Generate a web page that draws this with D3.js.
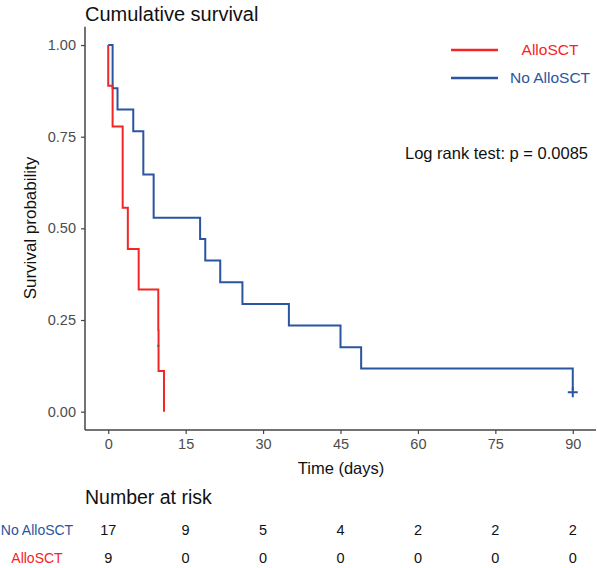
<!DOCTYPE html>
<html>
<head>
<meta charset="utf-8">
<script src="https://cdn.jsdelivr.net/npm/d3@7"></script>
<style>
  body { margin: 0; background: #fff; }
  svg { display: block; font-family: "Liberation Sans", Arial, sans-serif; }
</style>
</head>
<body>
<svg id="chart" width="597" height="568"></svg>
<script>
// ---- data ----
const groups = ["AlloSCT", "No AlloSCT"];
const groupColors = ["#f42525", "#2b55a0"];
// Kaplan-Meier steps: time of event and survival after it
const alloTimes = [0, 0, 0.85, 2.8, 3.8, 5.9, 9.7, 9.75, 10.8];
const alloSurv  = [1, 0.889, 0.778, 0.556, 0.444, 0.333, 0.222, 0.111, 0];
const alloCensorTimes = [9.7];
const alloCensorSurv  = [0.18];
const noAlloTimes = [0, 0.85, 1.8, 4.85, 6.8, 8.8, 17.8, 18.8, 21.7, 26, 35, 45, 49, 90];
const noAlloSurv  = [1, 0.882, 0.824, 0.765, 0.647, 0.529, 0.471, 0.412, 0.353, 0.294, 0.235, 0.176, 0.118, 0.059];
const noAlloCensorTimes = [90];
const noAlloCensorSurv  = [0.053];
const xTicks = [0, 15, 30, 45, 60, 75, 90];
const yTicks = [0, 0.25, 0.5, 0.75, 1];
const riskNoAllo = [17, 9, 5, 4, 2, 2, 2];
const riskAllo   = [9, 0, 0, 0, 0, 0, 0];
const pText = "Log rank test: p = 0.0085";

// ---- layout ----
const svg = d3.select("#chart");
const x = d3.scaleLinear().domain([-4.5, 94.5]).range([85, 596]);
const y = d3.scaleLinear().domain([-0.05, 1.05]).range([430, 26.7]);
const axisColor = "#444";
const tickTextColor = "#4d4d4d";

// title
svg.append("text").attr("x", 85).attr("y", 21)
  .attr("font-size", 20).attr("fill", "#111").text("Cumulative survival");

// axes
const yAxis = svg.append("g").attr("transform", "translate(85,0)")
  .call(d3.axisLeft(y).tickValues(yTicks).tickFormat(d3.format(".2f")).tickSize(4).tickPadding(5));
const xAxis = svg.append("g").attr("transform", "translate(0,430)")
  .call(d3.axisBottom(x).tickValues(xTicks).tickSize(4).tickPadding(5));
[xAxis, yAxis].forEach(a => {
  a.select(".domain").attr("stroke", axisColor).attr("stroke-width", 1.5);
  a.selectAll(".tick line").attr("stroke", axisColor).attr("stroke-width", 1.2);
  a.selectAll(".tick text").attr("font-size", 14.5).attr("fill", tickTextColor)
    .attr("font-family", "Liberation Sans, Arial, sans-serif");
});
xAxis.select(".domain").attr("d", "M85,0H596");
yAxis.select(".domain").attr("d", "M0,26.7V430");

// axis titles
svg.append("text").attr("x", 341).attr("y", 474).attr("text-anchor", "middle")
  .attr("font-size", 16.5).attr("fill", "#111").text("Time (days)");
svg.append("text").attr("transform", "translate(36,228) rotate(-90)").attr("text-anchor", "middle")
  .attr("font-size", 17).attr("fill", "#111").text("Survival probability");

// curves
const line = d3.line().x(d => x(d[0])).y(d => y(d[1])).curve(d3.curveStepAfter);
function pts(times, surv) { return times.map((t, i) => [t, surv[i]]); }
const curves = [
  { pts: pts(noAlloTimes, noAlloSurv), color: groupColors[1], ct: noAlloCensorTimes, cs: noAlloCensorSurv, big: true },
  { pts: pts(alloTimes, alloSurv), color: groupColors[0], ct: alloCensorTimes, cs: alloCensorSurv, big: false }
];
curves.forEach(c => {
  svg.append("path").datum(c.pts).attr("d", line).attr("fill", "none")
    .attr("stroke", c.color).attr("stroke-width", 2);
  c.ct.forEach((t, i) => {
    const cx = x(t), cy = y(c.cs[i]);
    const s = c.big ? 5 : 1;
    const col = c.big ? c.color : "#555";
    svg.append("path").attr("d", `M${cx - s},${cy}H${cx + s}M${cx},${cy - s}V${cy + s}`)
      .attr("stroke", col).attr("stroke-width", c.big ? 2 : 1.5);
  });
});

// legend
const legendY = [50, 78];
const legendOrder = [0, 1];
legendOrder.forEach((gi, k) => {
  svg.append("line").attr("x1", 451).attr("x2", 498).attr("y1", legendY[k]).attr("y2", legendY[k])
    .attr("stroke", groupColors[gi]).attr("stroke-width", 2.5);
  svg.append("text").attr("x", 550).attr("y", legendY[k] + 5).attr("text-anchor", "middle")
    .attr("font-size", 15.5).attr("fill", groupColors[gi]).text(groups[gi]);
});

// p-value
svg.append("text").attr("x", 588).attr("y", 159).attr("text-anchor", "end")
  .attr("font-size", 16.5).attr("fill", "#111").text(pText);

// risk table
svg.append("text").attr("x", 85).attr("y", 504)
  .attr("font-size", 19.5).attr("fill", "#111").text("Number at risk");
const rows = [
  { label: groups[1], color: groupColors[1], vals: riskNoAllo, yy: 535 },
  { label: groups[0], color: groupColors[0], vals: riskAllo, yy: 563 }
];
rows.forEach(r => {
  svg.append("text").attr("x", 37).attr("y", r.yy).attr("text-anchor", "middle")
    .attr("font-size", 14).attr("fill", r.color).text(r.label);
  r.vals.forEach((v, i) => {
    svg.append("text").attr("x", x(xTicks[i])).attr("y", r.yy).attr("text-anchor", "middle")
      .attr("font-size", 14.5).attr("fill", "#111").text(v);
  });
});
</script>
</body>
</html>
